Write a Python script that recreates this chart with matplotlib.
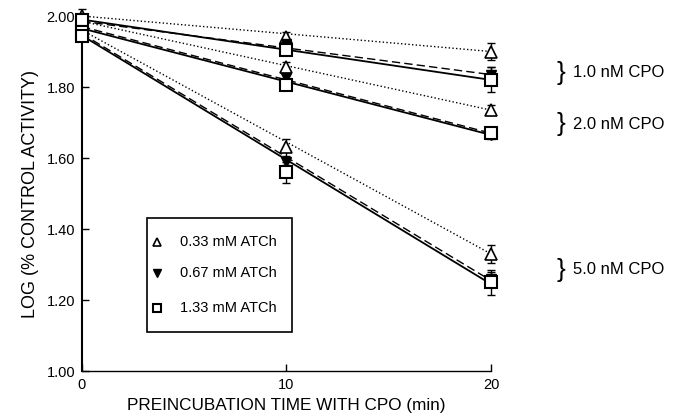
import numpy as np
import matplotlib
matplotlib.use('Agg')
import matplotlib.pyplot as plt
from matplotlib.patches import Rectangle

plt.rcParams['font.family'] = ['Liberation Sans', 'DejaVu Sans']

# preincubation time (min)
times = [0, 10, 20]

cpo_labels = ['1.0 nM CPO', '2.0 nM CPO', '5.0 nM CPO']
atch_labels = ['0.33 mM ATCh', '0.67 mM ATCh', '1.33 mM ATCh']

# measured log(% control activity), one row per CPO level
tri_vals = [[2.00, 1.94, 1.90],
            [1.99, 1.855, 1.735],
            [1.96, 1.63, 1.33]]
tri_err = [[0.02, 0.015, 0.025],
           [0.01, 0.015, 0.015],
           [0.01, 0.025, 0.025]]
dtri_vals = [[1.985, 1.92, 1.835],
             [1.965, 1.825, 1.665],
             [1.95, 1.59, 1.26]]
dtri_err = [[0.01, 0.01, 0.02],
            [0.01, 0.01, 0.01],
            [0.01, 0.01, 0.02]]
sq_vals = [[1.99, 1.905, 1.82],
           [1.955, 1.805, 1.67],
           [1.945, 1.56, 1.25]]
sq_err = [[0.015, 0.01, 0.035],
          [0.01, 0.01, 0.01],
          [0.01, 0.03, 0.035]]

# regression lines: value at t=0 and t=20
tri_fit = [[2.00, 1.90], [1.985, 1.735], [1.96, 1.33]]
dtri_fit = [[1.985, 1.835], [1.97, 1.67], [1.95, 1.255]]
sq_fit = [[1.99, 1.82], [1.965, 1.665], [1.945, 1.245]]

label_y = [1.84, 1.695, 1.285]

fig = plt.figure(figsize=(6.81, 4.16), dpi=100)
ax = fig.add_axes([0.1204, 0.108, 0.6006, 0.8535])

fit_x = [times[0], times[-1]]
tri_style = dict(marker='^', mfc='white', mec='black', mew=1.2)
dtri_style = dict(marker='v', mfc='black', mec='black', mew=1.0)
sq_style = dict(marker='s', mfc='white', mec='black', mew=1.5)
groups = [
    (tri_vals, tri_err, tri_fit, ':', tri_style, 8),
    (dtri_vals, dtri_err, dtri_fit, (0, (6, 3)), dtri_style, 7),
    (sq_vals, sq_err, sq_fit, '-', sq_style, 9),
]
for vals, errs, fits, ls, mk, ms in groups:
    for i in range(3):
        ax.plot(fit_x, fits[i], color='black', ls=ls,
                lw=1.3 if ls == '-' else 1.0, zorder=2)
    for i in range(3):
        ax.errorbar(times, vals[i], yerr=errs[i], fmt='none', ecolor='black',
                    elinewidth=1.0, capsize=3, capthick=1.0, zorder=3, clip_on=False)
        ax.plot(times, vals[i], ls='none', ms=ms, zorder=4, clip_on=False, **mk)

ax.set_xlim(0, 20)
ax.set_ylim(1.0, 2.0)
ax.set_xticks([0, 10, 20])
ax.set_yticks(np.arange(1.0, 2.01, 0.2))
ax.set_yticklabels(['%.2f' % v for v in np.arange(1.0, 2.01, 0.2)])
ax.spines['top'].set_visible(False)
ax.spines['right'].set_visible(False)
ax.spines['left'].set_linewidth(1.5)
ax.spines['bottom'].set_linewidth(1.0)
ax.tick_params(direction='in', length=5, width=1.0, labelsize=10.5, pad=5)
ax.set_xlabel('PREINCUBATION TIME WITH CPO (min)', fontsize=12.3, labelpad=4)
ax.set_ylabel('LOG (% CONTROL ACTIVITY)', fontsize=13, labelpad=5)

for lab, y in zip(cpo_labels, label_y):
    ax.text(23.4, y, '}', fontsize=19, va='center', ha='center', clip_on=False)
    ax.text(24.0, y, lab, fontsize=12, va='center', ha='left', clip_on=False)

# legend box drawn by hand
ax.add_patch(Rectangle((0.159, 0.110), 0.354, 0.321, transform=ax.transAxes,
                       fill=True, facecolor='white', edgecolor='black', lw=1.2,
                       zorder=5, clip_on=False))
leg_rows = [0.363, 0.276, 0.177]
for y, lab, mk in zip(leg_rows, atch_labels, [tri_style, dtri_style, sq_style]):
    ax.plot([0.183], [y], transform=ax.transAxes, ls='none', ms=6, zorder=6, **mk)
    ax.text(0.24, y, lab, transform=ax.transAxes, fontsize=10.5, va='center',
            ha='left', zorder=6)

fig.savefig('out.png', dpi=100)
